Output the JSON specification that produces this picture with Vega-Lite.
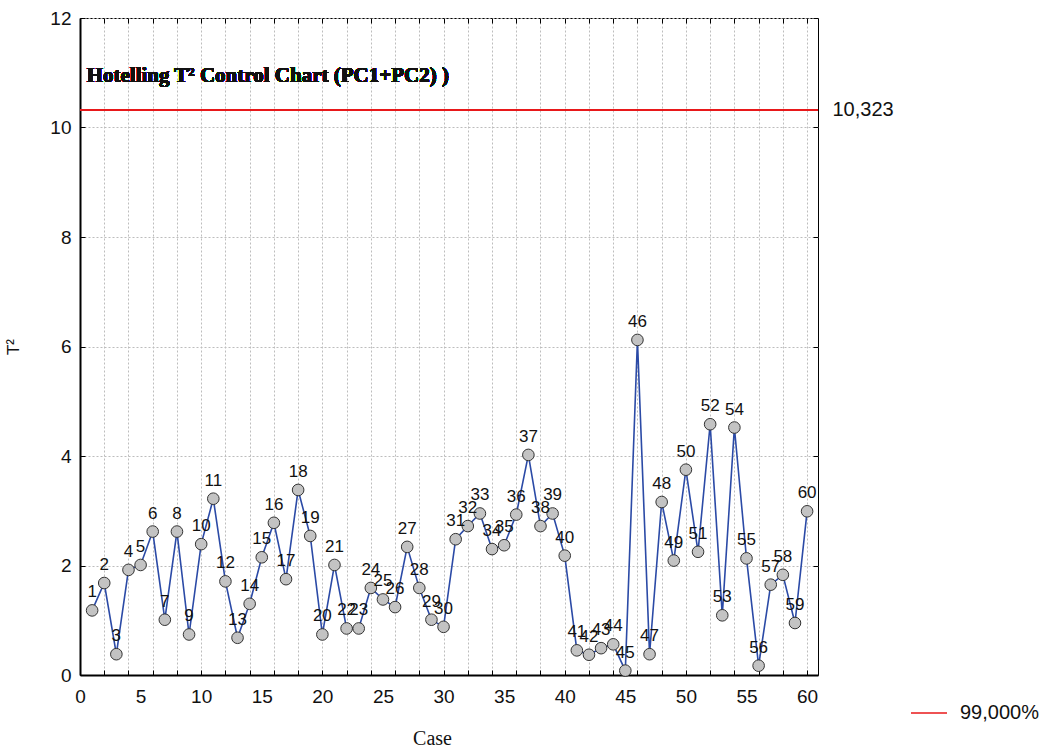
{
  "$schema": "https://vega.github.io/schema/vega-lite/v6.json",
  "width": 738,
  "height": 657,
  "autosize": {"type": "none"},
  "padding": {"left": 80, "top": 18, "right": 229, "bottom": 75},
  "background": "white",
  "config": {
    "view": {"stroke": "black", "strokeWidth": 1},
    "font": "Liberation Sans"
  },
  "data": {
    "values": [
      {"case": 1, "t2": 1.18}, {"case": 2, "t2": 1.68}, {"case": 3, "t2": 0.38}, {"case": 4, "t2": 1.92},
      {"case": 5, "t2": 2.01}, {"case": 6, "t2": 2.62}, {"case": 7, "t2": 1.01}, {"case": 8, "t2": 2.62},
      {"case": 9, "t2": 0.74}, {"case": 10, "t2": 2.39}, {"case": 11, "t2": 3.22}, {"case": 12, "t2": 1.71},
      {"case": 13, "t2": 0.68}, {"case": 14, "t2": 1.30}, {"case": 15, "t2": 2.15}, {"case": 16, "t2": 2.78},
      {"case": 17, "t2": 1.75}, {"case": 18, "t2": 3.38}, {"case": 19, "t2": 2.54}, {"case": 20, "t2": 0.74},
      {"case": 21, "t2": 2.01}, {"case": 22, "t2": 0.85}, {"case": 23, "t2": 0.85}, {"case": 24, "t2": 1.59},
      {"case": 25, "t2": 1.38}, {"case": 26, "t2": 1.24}, {"case": 27, "t2": 2.34}, {"case": 28, "t2": 1.59},
      {"case": 29, "t2": 1.01}, {"case": 30, "t2": 0.88}, {"case": 31, "t2": 2.48}, {"case": 32, "t2": 2.72},
      {"case": 33, "t2": 2.95}, {"case": 34, "t2": 2.30}, {"case": 35, "t2": 2.37}, {"case": 36, "t2": 2.93},
      {"case": 37, "t2": 4.02}, {"case": 38, "t2": 2.72}, {"case": 39, "t2": 2.95}, {"case": 40, "t2": 2.18},
      {"case": 41, "t2": 0.45}, {"case": 42, "t2": 0.37}, {"case": 43, "t2": 0.49}, {"case": 44, "t2": 0.56},
      {"case": 45, "t2": 0.08}, {"case": 46, "t2": 6.12}, {"case": 47, "t2": 0.38}, {"case": 48, "t2": 3.16},
      {"case": 49, "t2": 2.09}, {"case": 50, "t2": 3.75}, {"case": 51, "t2": 2.25}, {"case": 52, "t2": 4.58},
      {"case": 53, "t2": 1.09}, {"case": 54, "t2": 4.52}, {"case": 55, "t2": 2.13}, {"case": 56, "t2": 0.17},
      {"case": 57, "t2": 1.65}, {"case": 58, "t2": 1.83}, {"case": 59, "t2": 0.95}, {"case": 60, "t2": 2.99}
    ]
  },
  "resolve": {"axis": {"x": "independent", "y": "independent"}},
  "layer": [
    {
      "mark": {"type": "line", "color": "#2b4aa6", "strokeWidth": 1.6},
      "encoding": {
        "x": {
          "field": "case", "type": "quantitative",
          "scale": {"domain": [0, 60.9], "nice": false, "zero": false},
          "axis": {
            "title": "Case",
            "titleFont": "Liberation Serif", "titleFontSize": 20, "titleFontWeight": "normal",
            "titleColor": "#111", "titlePadding": 22, "titleX": 352,
            "values": [0, 2, 4, 5, 6, 8, 10, 12, 14, 15, 16, 18, 20, 22, 24, 25, 26, 28, 30, 32, 34, 35, 36, 38, 40, 42, 44, 45, 46, 48, 50, 52, 54, 55, 56, 58, 60],
            "labelExpr": "datum.value % 5 === 0 ? format(datum.value, 'd') : ''",
            "labelOverlap": false, "labelFlush": false,
            "labelFontSize": 19, "labelColor": "#111", "labelPadding": 17,
            "tickSize": -5, "tickColor": "black",
            "tickOpacity": {"condition": {"test": "datum.value % 2 === 0", "value": 1}, "value": 0},
            "grid": true, "gridColor": "#bdbdbd", "gridDash": [2, 2], "gridWidth": 1,
            "gridOpacity": {"condition": {"test": "datum.value % 2 === 0", "value": 1}, "value": 0},
            "domainColor": "black", "domainWidth": 2
          }
        },
        "y": {
          "field": "t2", "type": "quantitative",
          "scale": {"domain": [0, 12], "nice": false},
          "axis": {
            "title": "T²", "titleFontSize": 17, "titleFontWeight": "normal", "titleColor": "#111",
            "titlePadding": 27,
            "values": [0, 2, 4, 6, 8, 10, 12],
            "labelFontSize": 19, "labelColor": "#111", "labelPadding": 14,
            "tickSize": -5, "tickColor": "black",
            "grid": true, "gridColor": "#bdbdbd", "gridDash": [2, 2], "gridWidth": 1,
            "domainColor": "black", "domainWidth": 2
          }
        }
      }
    },
    {
      "mark": {"type": "point", "filled": true, "fill": "#c3c3c3", "stroke": "#333333", "strokeWidth": 1, "size": 135, "opacity": 1},
      "encoding": {
        "x": {"field": "case", "type": "quantitative",
          "axis": {"orient": "top", "title": null, "labels": false, "grid": false, "domain": false,
            "values": [0, 2, 4, 6, 8, 10, 12, 14, 16, 18, 20, 22, 24, 26, 28, 30, 32, 34, 36, 38, 40, 42, 44, 46, 48, 50, 52, 54, 56, 58, 60],
            "tickSize": -5, "tickColor": "black"}},
        "y": {"field": "t2", "type": "quantitative",
          "axis": {"orient": "right", "title": null, "labels": false, "grid": false, "domain": false,
            "values": [0, 2, 4, 6, 8, 10, 12], "tickSize": -5, "tickColor": "black"}}
      }
    },
    {
      "mark": {"type": "text", "dy": -18, "fontSize": 17, "color": "#111"},
      "encoding": {
        "x": {"field": "case", "type": "quantitative", "axis": null},
        "y": {"field": "t2", "type": "quantitative", "axis": null},
        "text": {"field": "case", "type": "quantitative"}
      }
    },
    {
      "mark": {"type": "rule", "strokeWidth": 1.5},
      "encoding": {
        "y": {"datum": 10.323, "type": "quantitative",
          "axis": {"orient": "right", "title": null, "grid": false, "domain": false, "ticks": false,
            "values": [10.323], "labelExpr": "'10,323'", "labelFontSize": 20, "labelColor": "#111",
            "labelPadding": 14}},
        "color": {
          "datum": "99,000%",
          "scale": {"range": ["#e8181a"]},
          "legend": {
            "title": null, "orient": "none", "legendX": 830, "legendY": 676,
            "symbolType": "stroke", "symbolSize": 1300, "symbolStrokeWidth": 1.5,
            "labelFontSize": 20, "labelColor": "#111", "labelOffset": 12
          }
        }
      }
    },
    {
      "mark": {"type": "text", "align": "left", "baseline": "middle", "font": "Liberation Serif", "fontWeight": "bold", "fontSize": 21, "color": "#111"},
      "encoding": {
        "x": {"datum": 0.55, "type": "quantitative", "axis": null},
        "y": {"datum": 10.94, "type": "quantitative", "axis": null},
        "text": {"value": "Hotelling T² Control Chart (PC1+PC2)  )"}
      }
    }
  ]
}
